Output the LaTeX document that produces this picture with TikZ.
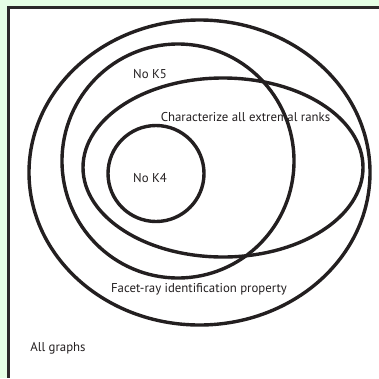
\documentclass[tikz,border=0pt]{standalone}
\usepackage{fontspec}
\setmainfont{PT Sans}
\usepackage{tikz}
\usepackage{xcolor}
\usetikzlibrary{positioning}
\definecolor{PageGreen}{HTML}{E6FFE6}
\definecolor{InkBlack}{HTML}{231F20}
\tikzset{
  vennline/.style={draw=InkBlack, line width=3.4pt},
  framebar/.style={draw=InkBlack!90!gray, line width=2.6pt},
  vennlabel/.style={text=InkBlack, inner sep=0pt, font=\fontsize{12.8}{14}\selectfont}
}

\begin{document}
\begin{tikzpicture}[x=1pt,y=-1pt]
  \useasboundingbox (0,0) rectangle (379,378);
  \fill[PageGreen] (0,0) rectangle (379,378);
  \fill[white] (9,8) rectangle (379,378);
  \draw[framebar] (379,7.5) -- (8.6,7.5) -- (8.6,378);
  % labels
  \node[vennlabel] (allg) at (58,348) {All graphs};
  \node[vennlabel] (facet) at (199,289) {Facet-ray identification property};
  \node[vennlabel] (nok5) at (150,74) {No K5};
  \node[vennlabel] (extr) at (245.5,117) {Characterize all extremal ranks};
  \node[vennlabel] (nok4) at (150,178) {No K4};
  % sets
  \draw[vennline] (199.5,172.5) ellipse [x radius=170.5, y radius=152.5];
  \draw[vennline] (178,161) ellipse [x radius=116, y radius=117];
  \draw[vennline] (223,167.5) ellipse [x radius=140, y radius=89.5];
  \draw[vennline] (156,173.5) circle (48);
\end{tikzpicture}
\end{document}
